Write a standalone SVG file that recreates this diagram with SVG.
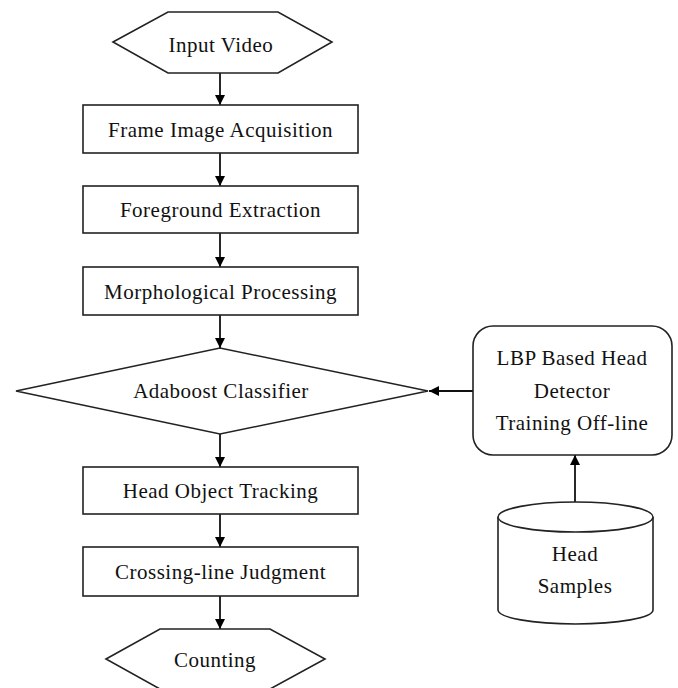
<svg xmlns="http://www.w3.org/2000/svg" width="678" height="688" viewBox="0 0 678 688">
<defs>
<style>
.shape{fill:#fff;stroke:#222;stroke-width:1.6}
.lbl{font-family:"Liberation Serif","Times New Roman",serif;font-size:21px;letter-spacing:0.5px;fill:#111;text-anchor:middle}
.conn{stroke:#111;stroke-width:1.8;fill:none}
</style>
<marker id="arr" viewBox="0 0 10 10" refX="10" refY="5" markerWidth="10" markerHeight="10" markerUnits="userSpaceOnUse" orient="auto">
<path d="M0,0 L10,5 L0,10 z" fill="#000"/>
</marker>
</defs>
<rect width="678" height="688" fill="#fff"/>
<g id="connectors">
<line class="conn" x1="220" y1="73" x2="220" y2="105" marker-end="url(#arr)"/>
<line class="conn" x1="220" y1="153" x2="220" y2="186" marker-end="url(#arr)"/>
<line class="conn" x1="220" y1="233" x2="220" y2="267" marker-end="url(#arr)"/>
<line class="conn" x1="220" y1="315" x2="220" y2="348" marker-end="url(#arr)"/>
<line class="conn" x1="220" y1="434" x2="220" y2="467" marker-end="url(#arr)"/>
<line class="conn" x1="220" y1="514" x2="220" y2="547" marker-end="url(#arr)"/>
<line class="conn" x1="220" y1="596" x2="220" y2="629" marker-end="url(#arr)"/>
<line class="conn" x1="473" y1="391" x2="429" y2="391" marker-end="url(#arr)"/>
<line class="conn" x1="575" y1="502" x2="575" y2="455" marker-end="url(#arr)"/>
</g>
<g id="input-video">
<polygon class="shape" points="113,42 168,12 278,12 332,42 278,73 168,73"/>
<text class="lbl" x="221" y="52">Input Video</text>
</g>
<g id="frame-image-acquisition">
<rect class="shape" x="83" y="105" width="275" height="48"/>
<text class="lbl" x="220.5" y="137">Frame Image Acquisition</text>
</g>
<g id="foreground-extraction">
<rect class="shape" x="83" y="186" width="275" height="47"/>
<text class="lbl" x="220.5" y="217">Foreground Extraction</text>
</g>
<g id="morphological-processing">
<rect class="shape" x="83" y="267" width="275" height="48"/>
<text class="lbl" x="220.5" y="299">Morphological Processing</text>
</g>
<g id="adaboost-classifier">
<polygon class="shape" points="16,391 220,348 428,391 220,434"/>
<text class="lbl" x="221" y="398">Adaboost Classifier</text>
</g>
<g id="head-object-tracking">
<rect class="shape" x="83" y="467" width="275" height="47"/>
<text class="lbl" x="220.5" y="498">Head Object Tracking</text>
</g>
<g id="crossing-line-judgment">
<rect class="shape" x="83" y="547" width="275" height="49"/>
<text class="lbl" x="220.5" y="579">Crossing-line Judgment</text>
</g>
<g id="counting">
<polygon class="shape" points="106,659 160,629 270,629 325,659 270,689 160,689"/>
<text class="lbl" x="215" y="667">Counting</text>
</g>
<g id="lbp-detector">
<rect class="shape" x="473" y="326" width="199" height="129" rx="20" ry="20"/>
<text class="lbl" x="572" y="365">LBP Based Head</text>
<text class="lbl" x="572" y="398">Detector</text>
<text class="lbl" x="572" y="430">Training Off-line</text>
</g>
<g id="head-samples">
<path class="shape" d="M498,517 L498,610 A77.5,14 0 0 0 653,610 L653,517"/>
<ellipse class="shape" cx="575.5" cy="517" rx="77.5" ry="15"/>
<text class="lbl" x="575" y="561">Head</text>
<text class="lbl" x="575" y="593">Samples</text>
</g>
</svg>
